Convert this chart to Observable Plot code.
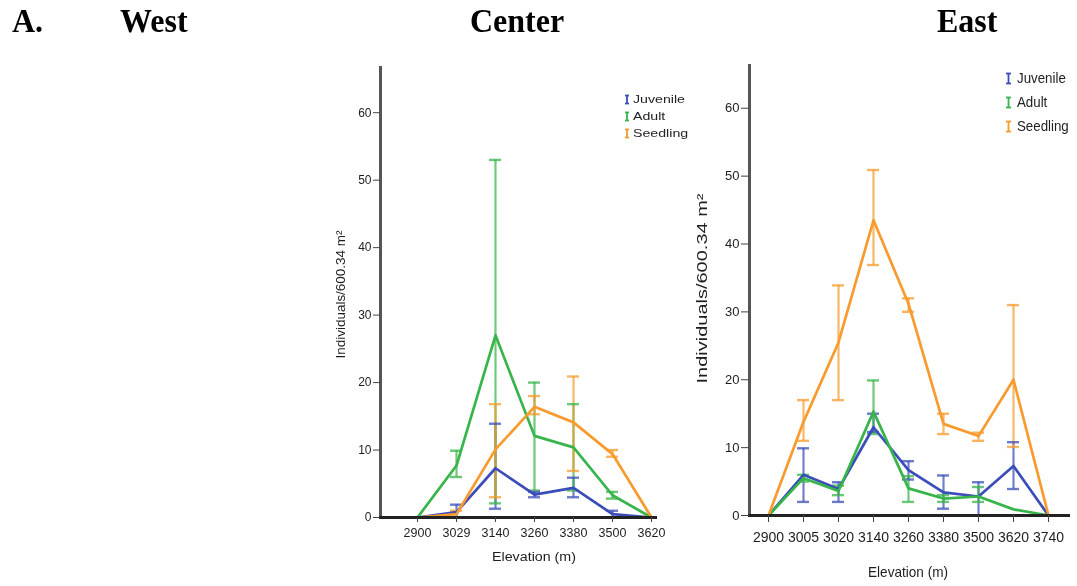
<!DOCTYPE html>
<html><head><meta charset="utf-8">
<script src="https://cdn.jsdelivr.net/npm/d3@7"></script>
<script src="https://cdn.jsdelivr.net/npm/@observablehq/plot@0.6"></script>
<style>
body{margin:0;width:1077px;height:586px;position:relative;background:#fff;overflow:hidden}
.t{position:absolute;font-family:"Liberation Serif","Times New Roman",serif;font-weight:bold;font-size:32px;line-height:1;top:3px;color:#000;white-space:nowrap;transform:scaleY(1.08);transform-origin:left top}
.panel{position:absolute;top:50px;filter:blur(0.45px)}
.leg{position:absolute;font-family:"Liberation Sans",Arial,sans-serif;color:#222;filter:blur(0.45px)}
.leg .row{position:absolute;left:0;display:flex;align-items:center;white-space:nowrap}
.leg .row span{display:inline-block;transform-origin:left center}
</style></head><body>
<div class="t" style="left:12px">A.</div>
<div class="t" style="left:120px">West</div>
<div class="t" style="left:470px">Center</div>
<div class="t" style="left:937px">East</div>
<div id="center" class="panel" style="left:320px"></div>
<div id="east" class="panel" style="left:690px"></div>
<div id="legC" class="leg" style="left:624px;top:0"></div>
<div id="legE" class="leg" style="left:1005px;top:0"></div>
<script>
// ---- data ----
const seriesNames = ["Juvenile", "Adult", "Seedling"];
const seriesColors = ["#3b4db8", "#37b44a", "#f79b2e"];
const yTicks = [0, 10, 20, 30, 40, 50, 60];
const yLabel = "Individuals/600.34 m²";
const xLabel = "Elevation (m)";

// Center
const centerCats = ["2900", "3029", "3140", "3260", "3380", "3500", "3620"];
const centerJuvenile     = [0, 0.8, 7.3, 3.4, 4.4, 0.5, 0];
const centerJuvenileLow  = [null, 0, 1.3, 3.0, 3.0, 0, null];
const centerJuvenileHigh = [null, 1.9, 13.9, 3.8, 5.9, 1.0, null];
const centerAdult        = [0, 7.7, 27.0, 12.1, 10.4, 3.3, 0];
const centerAdultLow     = [null, 6.0, 2.1, 4.0, 4.0, 2.8, null];
const centerAdultHigh    = [null, 9.9, 53.0, 20.0, 16.8, 3.8, null];
const centerSeedling     = [0, 0.5, 10.1, 16.4, 14.1, 9.4, 0];
const centerSeedlingLow  = [null, 0, 3.0, 15.3, 6.9, 9.0, null];
const centerSeedlingHigh = [null, 1.0, 16.8, 18.0, 20.9, 10.0, null];

// East
const eastCats = ["2900", "3005", "3020", "3140", "3260", "3380", "3500", "3620", "3740"];
const eastJuvenile     = [0, 6.0, 3.9, 13.0, 6.7, 3.4, 2.8, 7.3, 0];
const eastJuvenileLow  = [null, 2.0, 2.0, 12.3, 5.3, 1.0, 0, 3.9, null];
const eastJuvenileHigh = [null, 9.9, 4.9, 15.0, 8.0, 5.9, 4.9, 10.8, null];
const eastAdult        = [0, 5.5, 3.6, 15.3, 4.0, 2.5, 2.8, 0.9, 0];
const eastAdultLow     = [null, 5.0, 3.0, 12.0, 2.0, 2.0, 2.0, null, null];
const eastAdultHigh    = [null, 6.0, 4.4, 19.9, 5.8, 3.0, 4.2, null, null];
const eastSeedling     = [0, 13.8, 25.5, 43.5, 31.2, 13.5, 11.7, 20.0, 0];
const eastSeedlingLow  = [null, 11.0, 17.0, 36.9, 30.0, 12.0, 11.0, 10.1, null];
const eastSeedlingHigh = [null, 17.0, 33.9, 50.9, 32.0, 15.0, 12.2, 31.0, null];

// ---- build ----
function rows(cats, v, lo, hi, name) {
  return cats.map((c, i) => ({cat: c, series: name, value: v[i], lo: lo[i], hi: hi[i]}));
}
function fit(svg, str, len) {
  for (const t of svg.querySelectorAll("text")) {
    if (t.textContent === str) { t.setAttribute("textLength", len); t.setAttribute("lengthAdjust", "spacingAndGlyphs"); }
  }
}
function panel(cfg) {
  const data = cfg.series.flatMap(s => rows(cfg.cats, s[0], s[1], s[2], s[3]));
  const err = data.filter(d => d.lo != null);
  const capStyle = {x1: "cat", x2: "cat", stroke: "series", strokeOpacity: 0.75, strokeWidth: 2.4, insetLeft: -cfg.cap, insetRight: -cfg.cap};
  const svg = Plot.plot({
    width: cfg.width, height: cfg.height,
    marginTop: cfg.mt, marginBottom: cfg.mb, marginLeft: cfg.ml, marginRight: cfg.mr,
    style: {fontFamily: '"Liberation Sans", Arial, sans-serif', color: "#1e1e1e", background: "transparent"},
    x: {type: "point", domain: cfg.cats, range: cfg.xRange, padding: 0, align: 0.5},
    y: {domain: [0, cfg.yMax]},
    color: {domain: seriesNames, range: seriesColors},
    marks: [
      Plot.ruleX(err, {x: "cat", y1: "lo", y2: "hi", stroke: "series", strokeOpacity: 0.72, strokeWidth: 2.2}),
      Plot.ruleY(err, {...capStyle, y: "lo"}),
      Plot.ruleY(err, {...capStyle, y: "hi"}),
      Plot.line(data, {x: "cat", y: "value", z: "series", stroke: "series", strokeWidth: 2.7}),
      Plot.frame({anchor: "left", stroke: "#555", strokeWidth: 3}),
      Plot.frame({anchor: "bottom", stroke: "#222", strokeWidth: 3}),
      Plot.axisY({ticks: yTicks, tickSize: cfg.yTick, tickPadding: 2, label: null, fontSize: cfg.yFont, stroke: "#444"}),
      Plot.axisX({tickSize: cfg.xTick, tickPadding: cfg.xPad, label: null, fontSize: cfg.xFont, stroke: "#444"}),
      Plot.text([yLabel], {frameAnchor: "left", rotate: -90, dx: cfg.ylDx, dy: cfg.ylDy, textAnchor: "middle", lineAnchor: "middle", fontSize: cfg.ylFont, fill: "#1e1e1e"}),
      Plot.text([xLabel], {frameAnchor: "bottom", dx: cfg.xlDx, dy: cfg.xlDy, textAnchor: "middle", lineAnchor: "middle", fontSize: cfg.xlFont, fill: "#1e1e1e"})
    ]
  });
  fit(svg, yLabel, cfg.ylLen);
  fit(svg, xLabel, cfg.xlLen);
  return svg;
}

document.getElementById("center").append(panel({
  cats: centerCats,
  series: [
    [centerJuvenile, centerJuvenileLow, centerJuvenileHigh, "Juvenile"],
    [centerAdult, centerAdultLow, centerAdultHigh, "Adult"],
    [centerSeedling, centerSeedlingLow, centerSeedlingHigh, "Seedling"]
  ],
  width: 370, height: 536, mt: 17, mb: 69, ml: 60, mr: 35, xRange: [94, 333], yMax: 66.7,
  cap: 6, yTick: 7, xTick: 5, xPad: 6, yFont: 12, xFont: 12.5,
  ylDx: -39, ylDy: 2, ylFont: 12, ylLen: 128, xlDx: 16, xlDy: 40, xlFont: 12, xlLen: 84
}));

document.getElementById("east").append(panel({
  cats: eastCats,
  series: [
    [eastJuvenile, eastJuvenileLow, eastJuvenileHigh, "Juvenile"],
    [eastAdult, eastAdultLow, eastAdultHigh, "Adult"],
    [eastSeedling, eastSeedlingLow, eastSeedlingHigh, "Seedling"]
  ],
  width: 387, height: 536, mt: 15, mb: 71, ml: 59, mr: 9, xRange: [75, 360], yMax: 66.3,
  cap: 6, yTick: 8, xTick: 7, xPad: 10, yFont: 13, xFont: 14,
  ylDx: -47, ylDy: -2, ylFont: 15, ylLen: 190, xlDx: -1, xlDy: 57, xlFont: 14.5, xlLen: 80
}));

function legend(el, ys, font, sx, iconH, iconW, gap) {
  seriesNames.forEach((name, i) => {
    const row = document.createElement("div");
    row.className = "row";
    row.style.top = (ys[i] - 8) + "px";
    row.style.height = "16px";
    const c = seriesColors[i];
    row.innerHTML =
      `<svg width="${iconW + 2}" height="${iconH + 2}" style="margin-right:${gap}px"><g stroke="${c}" stroke-width="1.8">` +
      `<line x1="${1 + iconW / 2}" x2="${1 + iconW / 2}" y1="1" y2="${iconH + 1}"/>` +
      `<line x1="1" x2="${iconW + 1}" y1="1.5" y2="1.5"/><line x1="1" x2="${iconW + 1}" y1="${iconH + 0.5}" y2="${iconH + 0.5}"/></g></svg>` +
      `<span style="font-size:${font}px;transform:scaleX(${sx})">${name}</span>`;
    el.append(row);
  });
}
legend(document.getElementById("legC"), [99, 116, 133], 10.5, 1.35, 9, 4, 3);
legend(document.getElementById("legE"), [78, 102, 126], 14, 0.95, 11, 5, 5);
</script>
</body></html>
